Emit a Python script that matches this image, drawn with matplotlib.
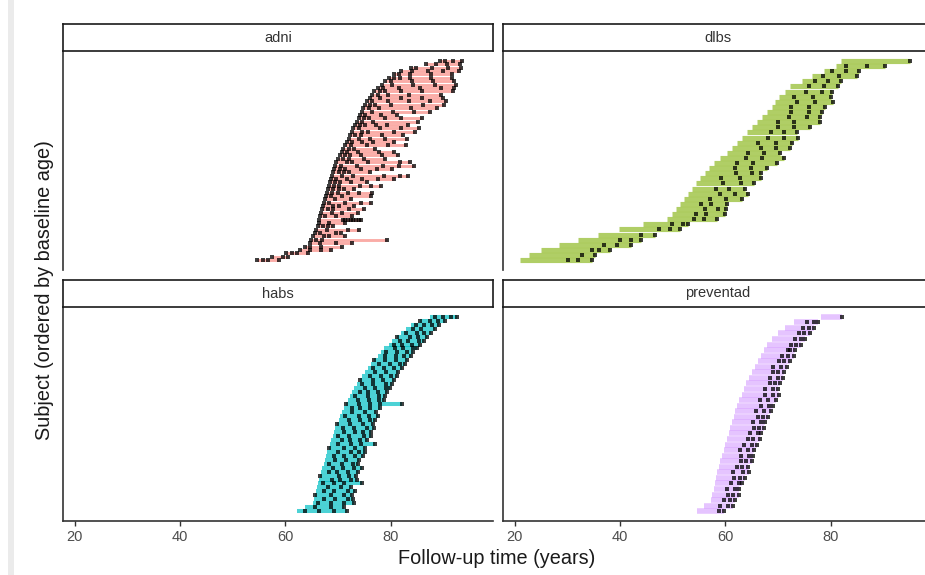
import matplotlib.pyplot as plt
from matplotlib.patches import Rectangle

plt.rcParams['font.family'] = ['Liberation Sans', 'DejaVu Sans']

# facet names and colours (ggplot default hues)
studies = ['adni', 'dlbs', 'habs', 'preventad']
colors = ['#F8766D', '#7CAE00', '#00BFC4', '#C77CFF']
x_ticks = [20, 40, 60, 80]

# line start (age, years) per subject, ordered by baseline age
adni_start = [54.7, 57.5, 60.2, 62.7, 63.7, 64.6, 64.9, 65.3, 65.6, 65.9,
              66.1, 66.3, 66.4, 66.6, 66.8, 67.0, 67.1, 67.3, 67.5, 67.7,
              67.9, 68.1, 68.2, 68.4, 68.6, 68.8, 69.1, 69.3, 69.5, 69.7,
              70.0, 70.3, 70.7, 71.0, 71.4, 71.6, 72.0, 72.3, 72.6, 72.9,
              73.2, 73.6, 73.9, 74.2, 74.5, 74.8, 75.1, 75.5, 76.0, 76.5,
              76.9, 77.5, 78.3, 79.0, 79.7, 80.6, 82.0, 83.8, 86.6, 89.3]
# visit times (years after line start)
adni_visits = [[0, 1, 2, 4], [0, 2, 3], [0, 1, 2, 4], [0, 2, 4, 6], [0, 1, 3, 7],
               [0, 2, 5, 8], [0, 1, 2, 14.3], [0, 2, 3, 6], [0, 1, 4, 5], [0, 2, 6, 8],
               [0, 1, 2, 3], [0, 2, 5], [0, 4.5, 5, 5.5, 6, 6.5, 7, 7.5, 8], [0, 1, 3, 6], [0, 2, 4, 7],
               [0, 1, 2, 5, 8], [0, 2, 3, 6], [0, 1, 4, 7, 9], [0, 2, 5], [0, 1, 3, 8.5],
               [0, 1, 2, 4, 6, 8.5], [0, 1, 2, 3, 5], [0, 1, 2, 6, 8, 10], [0, 1, 2, 4, 7], [0, 1, 3, 6, 9, 12],
               [0, 2, 4, 10, 13, 14.5], [0, 1, 2, 3, 7], [0, 1, 2, 5, 8, 11], [0, 1, 4, 9, 12, 15], [0, 2, 3, 6, 12, 14],
               [0, 1, 2, 5, 9], [0, 1, 2, 4, 8, 11], [0, 1, 3, 7, 10], [0, 1, 2, 6], [0, 1, 4, 8, 11.5],
               [0, 1, 3, 5, 9], [0, 2, 4, 7, 11], [0, 1, 2, 6, 10], [0, 2, 3, 8, 12], [0, 1, 5, 9, 12.5],
               [0, 1, 2, 4, 6, 10], [0, 1, 3, 11.5], [0, 1, 2, 5, 8, 12], [0, 1, 4, 7], [0, 2, 6, 10, 13],
               [0, 1, 3, 9, 14], [0, 1, 2, 5, 11, 15], [0, 1, 4, 8, 12, 15], [0, 2, 6, 10, 14], [0, 1, 3, 7, 13],
               [0, 1, 2, 5, 9, 15], [0, 1, 4, 8, 12, 14.5], [0, 2, 6, 10, 14], [0, 1, 5, 9, 13], [0, 1, 2, 4, 8, 12],
               [0, 1, 3, 7, 11], [0, 2, 5, 8, 11], [0, 1, 4, 7, 9.5], [0, 2, 4, 6.5], [0, 1, 2.5, 4.3]]

dlbs_start = [21.1, 22.8, 25.1, 28.4, 32.0, 35.9, 39.9, 44.4, 49.0, 49.9,
              50.6, 51.3, 52.1, 52.9, 53.7, 54.5, 55.2, 56.1, 56.9, 57.8,
              59.0, 60.3, 61.2, 62.2, 63.1, 64.1, 65.0, 66.0, 67.0, 67.9,
              68.9, 69.5, 70.1, 71.3, 72.3, 74.5, 76.5, 78.8, 80.9, 81.9]
dlbs_visits = [[9, 11, 13.5], [10, 12.5], [9.5, 11, 13], [8.6, 11, 13.6], [8, 10, 12],
               [8, 10.7], [7.5, 9.5, 11.5], [5.5, 7.5, 8.5], [5, 7, 9.5], [4.5, 6.5, 10],
               [5.5, 8, 9.5], [4, 6, 9], [5, 8, 11], [6, 9, 11.3], [4.5, 7, 10],
               [5, 8.5, 11], [4, 7.5, 11.5], [6, 9, 10.6], [5, 8, 11], [4.5, 7.5, 12],
               [5, 8, 12.2], [4, 7, 10], [5.5, 8.5, 11], [4, 7.5, 10.5], [5, 8, 10.6],
               [4.5, 7, 9.5], [5, 8, 11], [4, 7, 12], [5, 8.5, 11], [4.5, 8, 10.5],
               [3.5, 7, 10], [4, 7.5, 11], [3, 6.5, 10], [4, 7, 9], [3.5, 6.5, 9],
               [2.5, 5, 7.5], [2, 5, 8.5], [1.5, 4, 6.5], [2, 6, 9.3], [13.2]]

habs_start = [62.3, 63.7, 65.2, 65.4, 65.6, 65.8, 66.0, 66.2, 66.4, 66.6,
              66.8, 67.0, 67.3, 67.5, 67.7, 67.9, 68.2, 68.4, 68.7, 69.0,
              69.2, 69.5, 69.8, 70.1, 70.4, 70.7, 71.1, 71.5, 71.8, 72.2,
              72.6, 73.1, 73.6, 74.1, 74.6, 75.1, 75.7, 76.3, 76.9, 77.5,
              78.1, 78.8, 79.6, 80.3, 81.1, 81.9, 82.8, 83.8, 85.5, 87.4]
habs_visits = [[1.5, 4, 7, 9.3], [2, 5, 7.5], [1, 3.5, 6, 7.8], [2, 4, 6.5, 7.5], [0, 3, 5.5, 7],
               [1.5, 3.5, 6, 7.5], [2, 4.5, 6.5], [1, 3, 5, 8.4], [2.5, 4, 6, 7.2], [0, 3.5, 5.5, 6.8],
               [1.5, 3, 5, 7], [2, 4, 6, 7.5], [1, 3.5, 5.5, 6.5], [2, 4, 6.5], [1.5, 3.5, 5.5, 7],
               [2, 4.5, 6, 7.2], [0, 3, 5, 7], [1.5, 4, 6, 8.6], [2, 3.5, 5.5, 6.8], [1, 3, 6, 7.2],
               [2, 4, 5.5, 7], [1.5, 3.5, 6, 7.3], [0, 2.5, 5, 6.8], [2, 4, 6, 7], [1, 3.5, 5.5, 7.2],
               [2, 4.5, 6.5], [1.5, 3, 5, 6.8], [0, 2.5, 4.5, 6.5, 10.7], [2, 4, 6, 7], [1, 3.5, 5.5, 6.8],
               [1.5, 3, 5, 6.7], [2, 4, 6, 6.8], [1, 3, 5.5, 6.6], [0, 2.5, 4.5, 6.5], [1.5, 3.5, 5.5, 6.6],
               [2, 4, 6.3], [1, 3, 5, 6.5], [1.5, 3.5, 5.5, 6.4], [0, 2, 4, 6.2], [1.5, 3.5, 5, 6.3],
               [1, 3, 5, 6.2], [2, 3.5, 5.5, 6.1], [1, 2.5, 4.5, 6], [1.5, 3, 5, 6], [0, 2.5, 4, 5.8],
               [1, 3, 4.5, 5.7], [1.5, 3, 5.5], [1, 2.5, 4, 5.3], [0, 2, 3.5, 4.8], [1, 2.5, 4, 5.1]]

preventad_start = [54.7, 56.0, 57.3, 57.5, 57.8, 58.0, 58.2, 58.4, 58.7, 59.0,
                   59.4, 59.7, 60.0, 60.3, 60.6, 60.9, 61.2, 61.6, 61.9, 62.2,
                   62.6, 63.1, 63.5, 64.0, 64.4, 65.0, 65.6, 66.2, 66.8, 67.3,
                   67.9, 68.8, 70.0, 71.3, 73.0, 78.1]
preventad_visits = [[4, 5], [3, 4.5, 5.5], [2.5, 3.5, 4.5], [3, 4, 5], [2.5, 4, 4.8],
                    [3, 4.5, 5.2], [3.5, 4.5, 5.5], [3, 5, 6], [3.5, 4.5, 5.5], [4, 5, 6],
                    [3.5, 5, 5.8], [3, 4.5, 5.8], [3.5, 5, 6], [4, 5, 6.2], [4, 5.5, 6.2],
                    [4.5, 5.5, 6.5], [4, 5.5, 6.3], [4.5, 5.5, 6.5], [4, 5.5, 6.8], [4.5, 6, 6.8],
                    [4, 5.5, 7], [4.5, 6, 7], [4, 5.5, 6.5], [4.5, 5.5, 6.3], [4, 5.5, 6.5],
                    [4, 5, 6.2], [3.5, 5, 6], [4, 5, 6], [4, 5, 6.2], [4.5, 5, 6],
                    [4.5, 5.5, 6.5], [4.5, 5.5, 6.3], [4, 5, 6], [3.5, 4.5, 5.5], [2.5, 3.8, 4.5],
                    [4.1]]

data = {
    'adni': (adni_start, adni_visits, 2.1, 0.6),
    'dlbs': (dlbs_start, dlbs_visits, 3.7, 0.6),
    'habs': (habs_start, habs_visits, 2.9, 0.7),
    'preventad': (preventad_start, preventad_visits, 4.0, 0.45),
}

fig = plt.figure(figsize=(9.25, 5.75), dpi=100)
W, H = 925.0, 575.0

# panel boxes in pixels: (left, top, bottom)
panels = {'adni': (63, 51, 270), 'dlbs': (503, 51, 270),
          'habs': (63, 307, 521), 'preventad': (503, 307, 521)}
panel_w = 430
strip_h = 27

for name, col in zip(studies, colors):
    left, top, bottom = panels[name]
    ax = fig.add_axes([left / W, (H - bottom) / H, panel_w / W, (bottom - top) / H])
    start, visits, lw, alpha = data[name]
    n = len(start)
    xs, ys = [], []
    for i in range(n):
        ages = [start[i] + v for v in visits[i]]
        ax.hlines(i, start[i], max(ages), color=col, lw=lw, alpha=alpha, zorder=1)
        xs += ages
        ys += [i] * len(ages)
    ax.scatter(xs, ys, s=9, c='black', marker='s', alpha=0.75, linewidths=0, zorder=2)

    ax.set_xlim(17.8, 99.4)
    ax.set_ylim(-0.05 * (n - 1), 1.05 * (n - 1))
    ax.set_yticks([])
    for s in ['top', 'right']:
        ax.spines[s].set_visible(False)
    ax.spines['left'].set_color('#333333')
    ax.spines['left'].set_linewidth(1.2)
    if name in ('habs', 'preventad'):
        ax.spines['bottom'].set_color('#333333')
        ax.spines['bottom'].set_linewidth(1.2)
        ax.set_xticks(x_ticks)
        ax.tick_params(axis='x', length=3.5, width=1, color='#333333',
                       labelcolor='#4D4D4D', labelsize=10.5, pad=3)
    else:
        ax.spines['bottom'].set_visible(False)
        ax.set_xticks([])

    # facet strip
    sax = fig.add_axes([left / W, (H - top) / H, panel_w / W, strip_h / H])
    sax.set_xticks([])
    sax.set_yticks([])
    for s in sax.spines.values():
        s.set_color('#1A1A1A')
        s.set_linewidth(1.2)
    sax.text(0.5, 0.5, name, ha='center', va='center', fontsize=10.5, color='#333333',
             transform=sax.transAxes)

fig.text(497 / W, (H - 558) / H, 'Follow-up time (years)', ha='center', va='center',
         fontsize=14.3, color='#1A1A1A')
fig.text(45 / W, (H - 290) / H, 'Subject (ordered by baseline age)', ha='center',
         va='center', rotation=90, fontsize=14.3, color='#1A1A1A')

# faint page edge at the far left of the screenshot
fig.add_artist(Rectangle((8 / W, 0), 6 / W, 1, transform=fig.transFigure,
                         color='#EBEBEB', lw=0))

fig.savefig('out.png', dpi=100)
